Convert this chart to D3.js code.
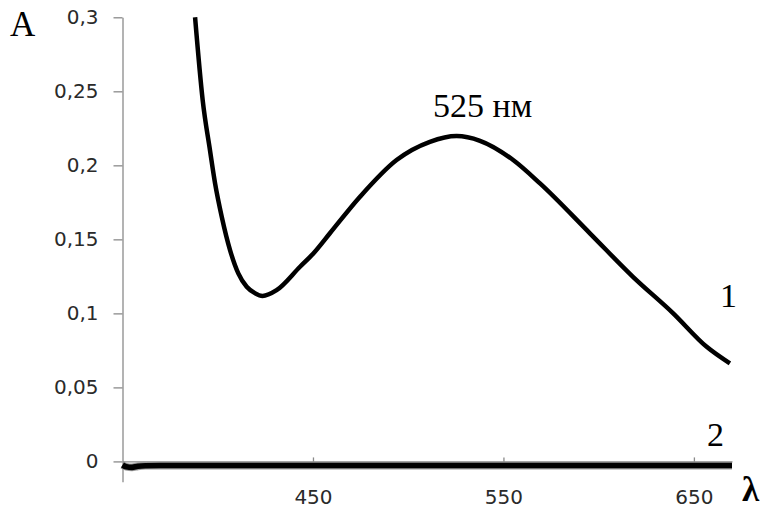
<!DOCTYPE html>
<html><head><meta charset="utf-8">
<script src="https://cdn.jsdelivr.net/npm/d3@7"></script>
<style>body{margin:0;background:#fff}svg{display:block}</style>
</head><body><svg id="c" width="769" height="508"></svg>
<script>
// Curve 1: absorbance spectrum (λ, nm)
const wavelength1 = [388.1, 392.1, 395.9, 398.6, 402.1, 406.5, 410.8, 415.2, 419.5, 423.5, 430.9, 443.2, 450.2, 459.0, 474.7, 493.9, 511.4, 525.4, 537.7, 555.1, 569.2, 595.4, 618.0, 639.0, 656.7, 668.9];
const absorbance1 = [0.300, 0.244, 0.2104, 0.1878, 0.1653, 0.1426, 0.1270, 0.1180, 0.1137, 0.1118, 0.1157, 0.1315, 0.1405, 0.1543, 0.1788, 0.2036, 0.2159, 0.2198, 0.2166, 0.2036, 0.1878, 0.1541, 0.1247, 0.1002, 0.0774, 0.0662];
// Curve 2: baseline
const wavelength2 = [350, 352, 355, 358, 362, 370, 450, 550, 650, 670];
const absorbance2 = [-0.0024, -0.0036, -0.0040, -0.0033, -0.0029, -0.0028, -0.0028, -0.0028, -0.0028, -0.0028];
const yTicks = [0, 0.05, 0.1, 0.15, 0.2, 0.25, 0.3];
const xTicks = [450, 550, 650];
const peakLabel = "525 нм";
const seriesLabels = ["1", "2"];

const svg = d3.select("#c");
const x = d3.scaleLinear().domain([350, 670]).range([122.5, 732]);
const y = d3.scaleLinear().domain([-0.0137, 0.3]).range([481.7, 17.3]);
const axisColor = "#8a8a8a";
const fmt = d => String(d).replace(".", ",");

// Y axis
const gy = svg.append("g").attr("transform", `translate(${x(350)},0)`)
  .call(d3.axisLeft(y).tickValues(yTicks).tickFormat(fmt).tickSizeInner(9).tickSizeOuter(0).tickPadding(15));
gy.select(".domain").attr("stroke", axisColor).attr("stroke-width", 1.3);
gy.selectAll(".tick line").attr("stroke", axisColor).attr("stroke-width", 1.3);
gy.selectAll(".tick text").attr("font-family", "DejaVu Sans").attr("font-size", 20).attr("fill", "#2a2a2a");

// X axis at A = 0
const gx = svg.append("g").attr("transform", `translate(0,${y(0)})`)
  .call(d3.axisBottom(x).tickValues(xTicks).tickFormat(d3.format("d")).tickSizeInner(5).tickSizeOuter(0).tickPadding(23));
gx.select(".domain").attr("stroke", axisColor).attr("stroke-width", 1.3);
gx.selectAll(".tick line").attr("stroke", axisColor).attr("stroke-width", 1.3).attr("y1", -4);
gx.selectAll(".tick text").attr("font-family", "DejaVu Sans").attr("font-size", 20).attr("fill", "#2a2a2a");

const line = d3.line().x(d => x(d[0])).y(d => y(d[1])).curve(d3.curveMonotoneX);

// Series 2 (baseline, thick with soft edge)
const d2 = wavelength2.map((w, i) => [w, absorbance2[i]]);
svg.append("path").datum(d2).attr("d", line).attr("fill", "none").attr("stroke", "#9a9a9a").attr("stroke-width", 7.8);
svg.append("path").datum(d2).attr("d", line).attr("fill", "none").attr("stroke", "#000").attr("stroke-width", 5.6);

// Series 1
const d1 = wavelength1.map((w, i) => [w, absorbance1[i]]);
svg.append("path").datum(d1).attr("d", line).attr("fill", "none").attr("stroke", "#000").attr("stroke-width", 4.5).attr("stroke-linejoin", "round");

// Text annotations
const serif = "Liberation Serif";
svg.append("text").attr("x", 10).attr("y", 36).attr("font-family", serif).attr("font-size", 35).text("A");
svg.append("text").attr("x", 433).attr("y", 117).attr("font-family", serif).attr("font-size", 34).text(peakLabel);
svg.append("text").attr("x", x(670) - 12).attr("y", 307).attr("font-family", serif).attr("font-size", 34).text(seriesLabels[0]);
svg.append("text").attr("x", x(670) - 25).attr("y", 446).attr("font-family", serif).attr("font-size", 34).text(seriesLabels[1]);
svg.append("text").attr("x", 742).attr("y", 501).attr("font-family", serif).attr("font-size", 35).attr("font-weight", "bold").text("λ");
</script>
</body></html>
